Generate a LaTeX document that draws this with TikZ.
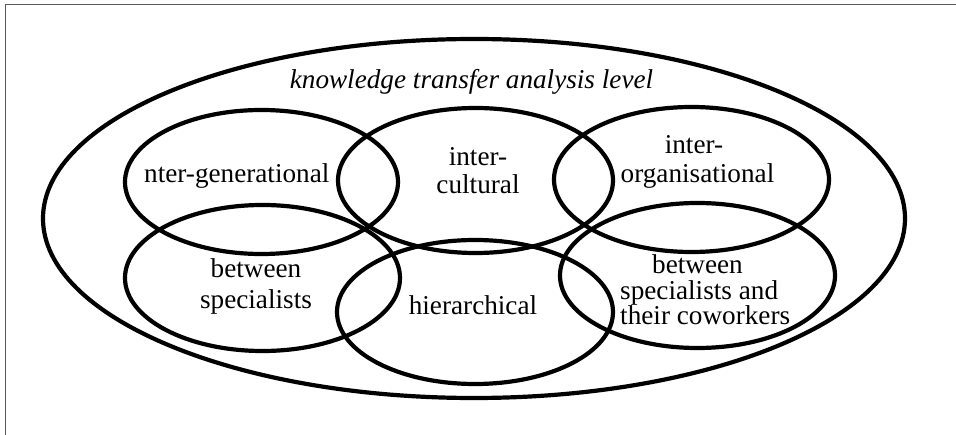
\documentclass[tikz,border=0pt]{standalone}
\usepackage{fontspec}
\setmainfont{Liberation Serif}
\begin{document}
\begin{tikzpicture}[x=1pt,y=-1pt,
  ring/.style={draw=black,line width=4.2pt},
  lbl/.style={anchor=base,inner sep=0pt,font=\fontsize{27.2}{29}\selectfont},
  frame/.style={draw=black!65,line width=1pt}]
\useasboundingbox (0,0) rectangle (956,435);
\draw[frame] (956,5) -- (5,5) -- (5,435);
% outer ellipse
\draw[ring] (474,218.5) ellipse [x radius=431, y radius=179.5];
% inner ellipses
\draw[ring] (261.5,182) ellipse [x radius=136.5, y radius=72];
\draw[ring] (475.5,180.5) ellipse [x radius=137.5, y radius=72.5];
\draw[ring] (691.5,179.5) ellipse [x radius=137.5, y radius=72.5];
\draw[ring] (262.5,278) ellipse [x radius=137.5, y radius=73];
\draw[ring] (475,312) ellipse [x radius=138, y radius=72];
\draw[ring] (697.5,275.5) ellipse [x radius=137.5, y radius=72.5];
% labels
\node[lbl,font=\fontsize{27.2}{29}\itshape] (title) at (471.5,89) {knowledge transfer analysis level};
\node[lbl,anchor=base west] (gen) at (144,183) {nter-generational};
\node[lbl] (cult1) at (478,166) {inter-};
\node[lbl] (cult2) at (478,194) {cultural};
\node[lbl] (org1) at (694,154) {inter-};
\node[lbl] (org2) at (697.5,183) {organisational};
\node[lbl] (spec1) at (256,278) {between};
\node[lbl] (spec2) at (256,309) {specialists};
\node[lbl] (hier) at (473,315) {hierarchical};
\node[lbl,anchor=base west,align=left,font=\fontsize{27.2}{25.5}\selectfont] (cow) at (620,325)
  {\hspace*{32pt}between\\specialists and\\their coworkers};
\end{tikzpicture}
\end{document}
